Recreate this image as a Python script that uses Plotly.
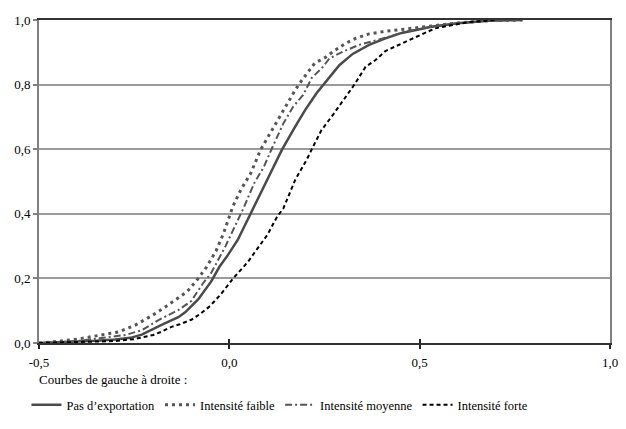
import plotly.graph_objects as go

# ---- data ----
pas_x = [-0.5, -0.45, -0.4, -0.35, -0.3, -0.26, -0.23, -0.2, -0.178, -0.134, -0.116, -0.082, -0.048,
         -0.026, -0.004, 0.022, 0.043, 0.06, 0.099, 0.138, 0.173, 0.199, 0.229, 0.25, 0.289, 0.324,
         0.367, 0.41, 0.453, 0.531, 0.6, 0.68, 0.77]
pas_y = [0.0, 0.002, 0.004, 0.007, 0.011, 0.016, 0.026, 0.042, 0.056, 0.08, 0.095, 0.135, 0.19,
         0.236, 0.272, 0.319, 0.37, 0.412, 0.505, 0.598, 0.67, 0.721, 0.773, 0.804, 0.86, 0.895,
         0.923, 0.943, 0.96, 0.979, 0.99, 0.998, 1.0]

faible_x = [-0.5, -0.45, -0.393, -0.341, -0.289, -0.246, -0.203, -0.17, -0.14, -0.11, -0.085, -0.06,
            -0.035, -0.015, 0.009, 0.03, 0.056, 0.082, 0.112, 0.138, 0.173, 0.191, 0.208, 0.224,
            0.255, 0.272, 0.306, 0.332, 0.367, 0.41, 0.462, 0.531, 0.6, 0.68, 0.77]
faible_y = [0.0, 0.005, 0.013, 0.025, 0.035, 0.056, 0.085, 0.11, 0.135, 0.16, 0.195, 0.235,
            0.285, 0.34, 0.422, 0.474, 0.525, 0.598, 0.659, 0.711, 0.783, 0.814, 0.84, 0.866,
            0.886, 0.902, 0.928, 0.943, 0.957, 0.965, 0.972, 0.982, 0.991, 0.998, 1.0]

moyenne_x = [-0.5, -0.45, -0.4, -0.341, -0.272, -0.229, -0.186, -0.134, -0.1, -0.069, -0.048, -0.01,
             0.015, 0.039, 0.065, 0.091, 0.112, 0.142, 0.168, 0.194, 0.216, 0.246, 0.263, 0.298,
             0.341, 0.41, 0.462, 0.531, 0.6, 0.68, 0.76]
moyenne_y = [0.0, 0.003, 0.006, 0.015, 0.025, 0.04, 0.071, 0.102, 0.13, 0.185, 0.216, 0.3,
             0.36, 0.422, 0.494, 0.546, 0.603, 0.68, 0.732, 0.768, 0.82, 0.855, 0.881, 0.902,
             0.923, 0.945, 0.964, 0.979, 0.99, 0.998, 1.0]

forte_x = [-0.5, -0.4, -0.3, -0.25, -0.2, -0.178, -0.152, -0.13, -0.1, -0.079, -0.05, -0.023, 0.01,
           0.048, 0.08, 0.1, 0.125, 0.142, 0.173, 0.203, 0.22, 0.242, 0.272, 0.306, 0.328, 0.358,
           0.384, 0.41, 0.445, 0.483, 0.54, 0.626, 0.7]
forte_y = [0.0, 0.002, 0.006, 0.012, 0.025, 0.035, 0.05, 0.058, 0.072, 0.088, 0.115, 0.15, 0.2,
           0.25, 0.3, 0.335, 0.39, 0.417, 0.505, 0.567, 0.608, 0.659, 0.706, 0.763, 0.799, 0.855,
           0.876, 0.904, 0.923, 0.945, 0.974, 0.993, 1.0]

series_names = ["Pas d\u2019exportation", "Intensit\u00e9 faible", "Intensit\u00e9 moyenne", "Intensit\u00e9 forte"]

x_tickvals = [-0.5, 0.0, 0.5, 1.0]
x_ticktext = ["-0,5", "0,0", "0,5", "1,0"]
y_tickvals = [0.0, 0.2, 0.4, 0.6, 0.8, 1.0]
y_ticktext = ["0,0", "0,2", "0,4", "0,6", "0,8", "1,0"]

note_text = "Courbes de gauche \u00e0 droite :"

FONT = "Liberation Serif, Times New Roman, Times, DejaVu Serif, serif"
FS = 13

fig = go.Figure()
fig.add_trace(go.Scatter(x=pas_x, y=pas_y, mode="lines", name=series_names[0],
                         line=dict(color="#4a4a4a", width=2.5)))
fig.add_trace(go.Scatter(x=faible_x, y=faible_y, mode="lines", name=series_names[1],
                         line=dict(color="#555555", width=3, dash="3px,4px")))
fig.add_trace(go.Scatter(x=moyenne_x, y=moyenne_y, mode="lines", name=series_names[2],
                         line=dict(color="#555555", width=2, dash="7px,3px,2px,3px")))
fig.add_trace(go.Scatter(x=forte_x, y=forte_y, mode="lines", name=series_names[3],
                         line=dict(color="#000000", width=2, dash="4px,3px")))

# overlay axis to draw tick marks crossing the x axis line (inside part)
fig.add_trace(go.Scatter(x=[None], y=[None], xaxis="x2", showlegend=False, hoverinfo="skip"))

fig.update_layout(
    width=626, height=429,
    margin=dict(l=39, r=8, t=20, b=86),
    paper_bgcolor="white", plot_bgcolor="white",
    font=dict(family=FONT, size=FS, color="#000000"),
    showlegend=True,
    legend=dict(orientation="h", x=-0.022, xanchor="left", y=-0.192, yanchor="middle",
                font=dict(family=FONT, size=12.5, color="#000"),
                itemwidth=30, tracegroupgap=0, bgcolor="rgba(0,0,0,0)"),
    xaxis=dict(range=[-0.5, 1.0], tickmode="array", tickvals=x_tickvals, ticktext=x_ticktext,
               showgrid=False, zeroline=False, showline=True, linecolor="#333333", linewidth=2,
               mirror=True, ticks="outside", ticklen=4, tickwidth=2, tickcolor="#222222",
               ticklabelstandoff=2,
               tickfont=dict(family=FONT, size=FS, color="#000")),
    xaxis2=dict(range=[-0.5, 1.0], overlaying="x", anchor="y", side="bottom",
                tickmode="array", tickvals=x_tickvals, showticklabels=False,
                showgrid=False, zeroline=False, showline=False,
                ticks="inside", ticklen=4, tickwidth=2, tickcolor="#222222"),
    yaxis=dict(range=[0, 1.0], tickmode="array", tickvals=y_tickvals, ticktext=y_ticktext,
               showgrid=True, gridcolor="#9a9a9a", gridwidth=1.5, zeroline=False,
               showline=True, linecolor="#808080", linewidth=2, mirror=True,
               ticks="outside", ticklen=4, tickwidth=1.5, tickcolor="#808080",
               tickfont=dict(family=FONT, size=FS, color="#000")),
    annotations=[dict(text=note_text, xref="paper", yref="paper", x=-0.004, y=-0.112,
                      xanchor="left", yanchor="middle", showarrow=False,
                      font=dict(family=FONT, size=FS, color="#000"))],
)

fig.write_html("out.html")
